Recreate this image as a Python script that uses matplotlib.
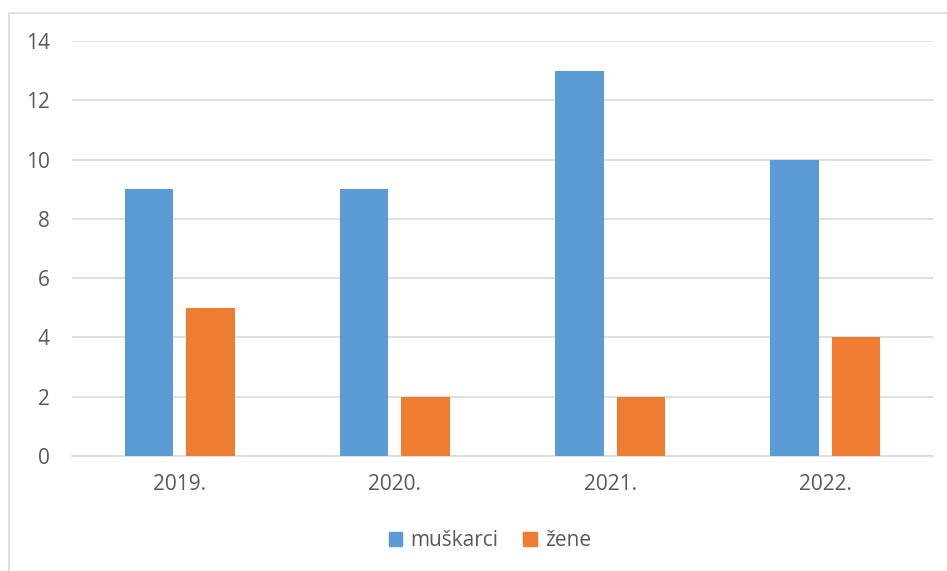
import matplotlib
matplotlib.use("Agg")
import matplotlib.pyplot as plt
from matplotlib.patches import Rectangle, Patch
import numpy as np

categories = ["2019.", "2020.", "2021.", "2022."]
muskarci = [9, 9, 13, 10]
zene = [5, 2, 2, 4]
series_names = ["muškarci", "žene"]
yticks = [0, 2, 4, 6, 8, 10, 12, 14]

blue = "#5B9BD5"
orange = "#ED7D31"
grid_c = "#D9D9D9"
text_c = "#595959"

plt.rcParams['font.family'] = ['Open Sans', 'DejaVu Sans']

fig = plt.figure(figsize=(9.47, 5.71), dpi=100)
ax = fig.add_axes([72/947, 1-456/571, (933-72)/947, (456-41)/571])

x = np.arange(len(categories))
w = 0.225
off = 0.143
ax.bar(x - off, muskarci, width=w, color=blue, zorder=3)
ax.bar(x + off, zene, width=w, color=orange, zorder=3)

ax.set_xlim(-0.5, len(categories) - 0.5)
ax.set_ylim(0, 14)
ax.set_yticks(yticks)
ax.set_yticklabels([str(v) for v in yticks])
ax.set_xticks(x)
ax.set_xticklabels(categories)
ax.yaxis.grid(True, color=grid_c, linewidth=1.2, zorder=0)
for s in ["top", "right", "left"]:
    ax.spines[s].set_visible(False)
ax.spines["bottom"].set_color(grid_c)
ax.spines["bottom"].set_linewidth(1.2)
ax.tick_params(axis="y", length=0, pad=16, labelsize=15, labelcolor=text_c)
ax.tick_params(axis="x", length=0, pad=13, labelsize=15, labelcolor=text_c)

handles = [Patch(color=blue, label=series_names[0]), Patch(color=orange, label=series_names[1])]
fig.legend(handles=handles, loc="center", bbox_to_anchor=(490/947, 1-541/571), ncol=2,
           frameon=False, fontsize=15, labelcolor=text_c, handlelength=0.65, handleheight=0.65,
           handletextpad=0.4, columnspacing=1.2)

fig.patches.append(Rectangle((8.5/947, -0.1), 1.2, 1.1 - 12.5/571, transform=fig.transFigure,
                             fill=False, edgecolor=grid_c, linewidth=1.2))

fig.savefig("out.png", dpi=100)
